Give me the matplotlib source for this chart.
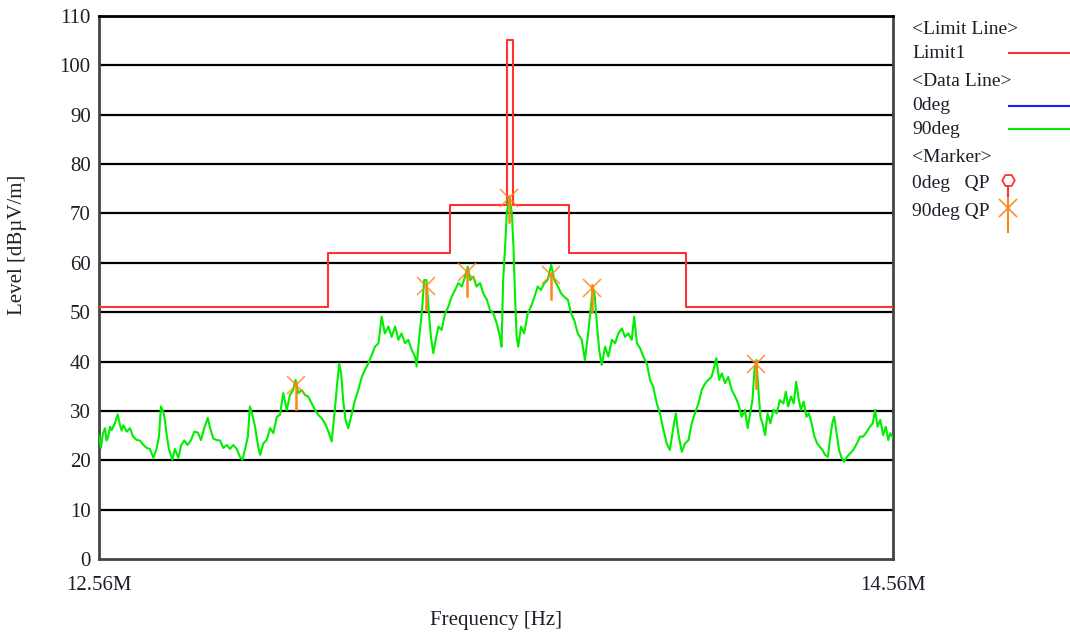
import matplotlib
matplotlib.use("Agg")
import matplotlib.pyplot as plt
from matplotlib.ticker import FixedLocator

plt.rcParams['font.family'] = ['Liberation Serif', 'DejaVu Serif']

# 90deg sweep (MHz, dBuV/m)
freq_mhz = [
    12.560, 12.565, 12.570, 12.575, 12.579, 12.583, 12.588, 12.592, 12.600, 12.607,
    12.613, 12.617, 12.621, 12.630, 12.638, 12.646, 12.655, 12.663, 12.672, 12.680,
    12.688, 12.697, 12.705, 12.711, 12.716, 12.722, 12.726, 12.731, 12.736, 12.745,
    12.751, 12.760, 12.767, 12.775, 12.783, 12.792, 12.800, 12.809, 12.817, 12.825,
    12.834, 12.840, 12.848, 12.856, 12.865, 12.873, 12.882, 12.890, 12.898, 12.907,
    12.915, 12.921, 12.928, 12.935, 12.940, 12.946, 12.953, 12.961,
    12.966, 12.974, 12.982, 12.991, 12.999, 13.008, 13.016, 13.024, 13.033, 13.041,
    13.049, 13.055, 13.062, 13.071, 13.079, 13.087, 13.096, 13.104, 13.112, 13.121,
    13.129, 13.138, 13.146, 13.154, 13.160, 13.165, 13.170, 13.175, 13.181, 13.188,
    13.197, 13.205, 13.213, 13.222, 13.230, 13.238, 13.247, 13.255, 13.264, 13.272,
    13.280, 13.289, 13.297, 13.306, 13.314, 13.322, 13.331, 13.339, 13.348, 13.356,
    13.360, 13.366,
    13.373, 13.379, 13.385, 13.391, 13.396, 13.402, 13.408, 13.415, 13.423, 13.432,
    13.440, 13.448, 13.457, 13.465, 13.474, 13.482, 13.489, 13.495, 13.503, 13.511,
    13.520, 13.528, 13.537, 13.545, 13.553, 13.562, 13.570, 13.574, 13.578, 13.583,
    13.587, 13.594, 13.600, 13.604, 13.608, 13.612, 13.616, 13.623, 13.631, 13.640,
    13.648, 13.657, 13.665, 13.673, 13.682, 13.690, 13.699, 13.707, 13.716, 13.724,
    13.732, 13.741, 13.749, 13.757, 13.766,
    13.776, 13.784, 13.793, 13.799, 13.804, 13.809, 13.814, 13.820, 13.826, 13.835,
    13.843, 13.852, 13.860, 13.868, 13.877, 13.885, 13.893, 13.902, 13.908, 13.915,
    13.923, 13.931, 13.940, 13.948, 13.956, 13.965, 13.973, 13.982, 13.990, 13.998,
    14.007, 14.013, 14.019, 14.028, 14.036, 14.045, 14.053, 14.061, 14.070, 14.078,
    14.087, 14.095, 14.103, 14.110, 14.115, 14.122, 14.129, 14.137, 14.145, 14.154,
    14.162, 14.170,
    14.179, 14.187, 14.194, 14.200, 14.206, 14.211, 14.216, 14.221, 14.226, 14.231,
    14.238, 14.244, 14.251, 14.259, 14.267, 14.275, 14.284, 14.290, 14.296, 14.303,
    14.310, 14.316, 14.322, 14.328, 14.335, 14.342, 14.348, 14.355, 14.362, 14.369,
    14.375, 14.382, 14.389, 14.396, 14.401, 14.407, 14.412, 14.418, 14.424, 14.431,
    14.437, 14.444, 14.452, 14.460, 14.469, 14.477, 14.485, 14.494, 14.502, 14.509,
    14.515, 14.521, 14.528, 14.535, 14.542, 14.548, 14.553, 14.560,
]
level_90deg = [
    25.0, 22.5, 25.5, 26.5, 24.0, 24.8, 26.8, 26.1, 27.5, 29.3,
    27.1, 26.0, 27.1, 25.8, 26.5, 24.8, 24.1, 24.0, 23.1, 22.5,
    22.3, 20.5, 22.3, 24.8, 30.9, 29.8, 28.2, 24.8, 22.3, 20.1,
    22.3, 20.5, 23.1, 24.0, 23.1, 24.1, 25.8, 25.6, 24.1, 26.5,
    28.6, 26.5, 24.4, 24.1, 24.0, 22.5, 23.1, 22.3, 23.1, 22.3,
    20.7, 20.1, 22.3, 24.8, 30.9, 29.3, 26.8, 22.8,
    21.1, 23.4, 24.1, 26.5, 25.5, 28.8, 29.2, 33.6, 30.2, 33.2,
    34.2, 36.3, 33.6, 34.2, 33.2, 32.9, 31.5, 30.2, 29.2, 28.5,
    27.5, 25.8, 23.8, 30.2, 35.6, 39.6, 37.6, 32.2, 28.2, 26.5,
    29.5, 32.2, 34.2, 36.9, 38.3, 39.6, 41.3, 43.0, 43.7, 49.1,
    45.7, 47.1, 45.0, 47.1, 44.4, 45.7, 43.7, 44.4, 42.3, 41.0,
    39.0, 44.4,
    49.8, 56.5, 56.5, 49.8, 45.0, 41.7, 44.4, 47.1, 46.4, 49.8,
    51.1, 53.1, 54.5, 55.9, 55.2, 57.2, 59.2, 56.5, 57.2, 55.2,
    55.9, 53.8, 52.5, 50.4, 49.8, 47.7, 45.0, 43.0, 56.5, 63.3,
    70.0, 73.4, 70.0, 63.3, 53.1, 45.0, 43.0, 47.1, 45.7, 49.8,
    51.1, 53.1, 55.2, 54.5, 55.9, 56.5, 59.6, 56.5, 55.2, 53.8,
    53.1, 52.5, 49.8, 48.4, 45.7,
    44.4, 40.3, 46.4, 51.1, 55.2, 53.1, 47.7, 42.3, 39.3, 43.0,
    41.0, 44.4, 43.7, 45.7, 46.7, 45.0, 45.7, 44.4, 49.1, 43.7,
    42.7, 41.0, 39.6, 36.3, 34.9, 31.5, 29.5, 26.1, 23.4, 22.1,
    26.8, 29.5, 25.5, 21.7, 23.4, 24.1, 27.5, 29.5, 31.5, 34.2,
    35.6, 36.3, 36.9, 39.0, 40.7, 36.3, 37.6, 35.6, 36.9, 34.2,
    33.0, 31.5,
    28.8, 30.2, 26.5, 29.5, 32.2, 38.3, 40.3, 34.2, 28.8, 27.5,
    25.1, 29.5, 27.5, 30.2, 29.5, 32.2, 31.5, 33.9, 30.9, 32.9,
    31.5, 35.9, 32.6, 30.2, 31.9, 28.8, 29.5, 27.5, 24.8, 23.4,
    22.8, 22.1, 21.1, 20.7, 24.1, 27.5, 28.8, 25.5, 22.1, 20.4,
    19.7, 20.7, 21.4, 22.1, 23.4, 24.8, 24.8, 25.8, 26.8, 27.5,
    30.2, 26.8, 28.2, 25.1, 26.8, 24.1, 25.5, 24.5,
]

# Limit1 steps (start frequency of each segment, level)
limit_freq = [12.560, 13.137, 13.444, 13.588, 13.603, 13.744, 14.039, 14.560]
limit_level = [51.0, 62.0, 71.7, 105.2, 71.7, 62.0, 51.0, 51.0]

# 90deg QP markers
marker_freq = [13.056, 13.383, 13.487, 13.593, 13.698, 13.803, 14.215]
marker_level = [35.2, 55.3, 58.2, 73.1, 57.5, 55.0, 39.6]

y_ticks = [0, 10, 20, 30, 40, 50, 60, 70, 80, 90, 100, 110]
x_ticks = [12.56, 14.56]
x_tick_labels = ["12.56M", "14.56M"]

text_color = '#1e1e2a'
green = '#00ee00'
red = '#ff3333'
orange = '#ff8416'

fig = plt.figure(figsize=(10.7, 6.34), dpi=100)
ax = fig.add_axes([99 / 1070, 1 - 559 / 634, 794 / 1070, 543 / 634])

for y in y_ticks[1:]:
    ax.axhline(y, color='black', lw=1.6, zorder=1)

ax.plot(limit_freq, limit_level, drawstyle='steps-post', color=red, lw=1.5, zorder=3)
ax.plot(freq_mhz, level_90deg, color=green, lw=1.5, zorder=4)

for f, v in zip(marker_freq, marker_level):
    ax.plot([f, f], [v - 4.9, v + 0.5], color=orange, lw=1.8, zorder=5)
ax.plot(marker_freq, marker_level, 'x', color=orange, ms=13, mew=1.1, alpha=0.85, zorder=6)

ax.set_xlim(12.56, 14.56)
ax.set_ylim(0, 110)
ax.yaxis.set_major_locator(FixedLocator(y_ticks))
ax.set_xticks(x_ticks)
ax.set_xticklabels(x_tick_labels)
ax.tick_params(axis='both', length=0, labelsize=15, colors=text_color)
ax.tick_params(axis='y', pad=6)
ax.tick_params(axis='x', pad=12)
for side in ['left', 'bottom', 'right', 'top']:
    ax.spines[side].set_color('#444444')
    ax.spines[side].set_linewidth(2)
ax.spines['top'].set_color('black')

fig.text(18 / 1070, 1 - 245 / 634, "Level [dB\u00b5V/m]", rotation=90, ha='center', va='center',
         fontsize=15, color=text_color)
fig.text(496 / 1070, 1 - 620 / 634, "Frequency [Hz]", ha='center', va='center',
         fontsize=15, color=text_color)

# legend panel on the right, pixel coordinates
leg = fig.add_axes([0, 0, 1, 1], facecolor='none')
leg.set_xlim(0, 1070)
leg.set_ylim(634, 0)
leg.axis('off')

legend_rows = [("<Limit Line>", 30), ("Limit1", 54), ("<Data Line>", 82), ("0deg", 106),
               ("90deg", 130), ("<Marker>", 158), ("0deg   QP", 184), ("90deg QP", 212)]
for label, y in legend_rows:
    leg.text(912, y, label, ha='left', va='center', fontsize=14, color=text_color)

leg.plot([1009, 1070], [53, 53], color=red, lw=1.5)
leg.plot([1009, 1070], [106, 106], color='#1a1aff', lw=1.5)
leg.plot([1009, 1070], [129, 129], color=green, lw=1.5)
leg.plot([1008, 1008], [185, 203], color=red, lw=1.5)
leg.plot([1008], [180], marker='H', ms=9, mfc='white', mec=red, mew=1.3)
leg.plot([1008, 1008], [198, 232], color=orange, lw=1.5)
leg.plot([1008], [208], 'x', color=orange, ms=13, mew=1.1)

fig.savefig("out.png", dpi=100)
